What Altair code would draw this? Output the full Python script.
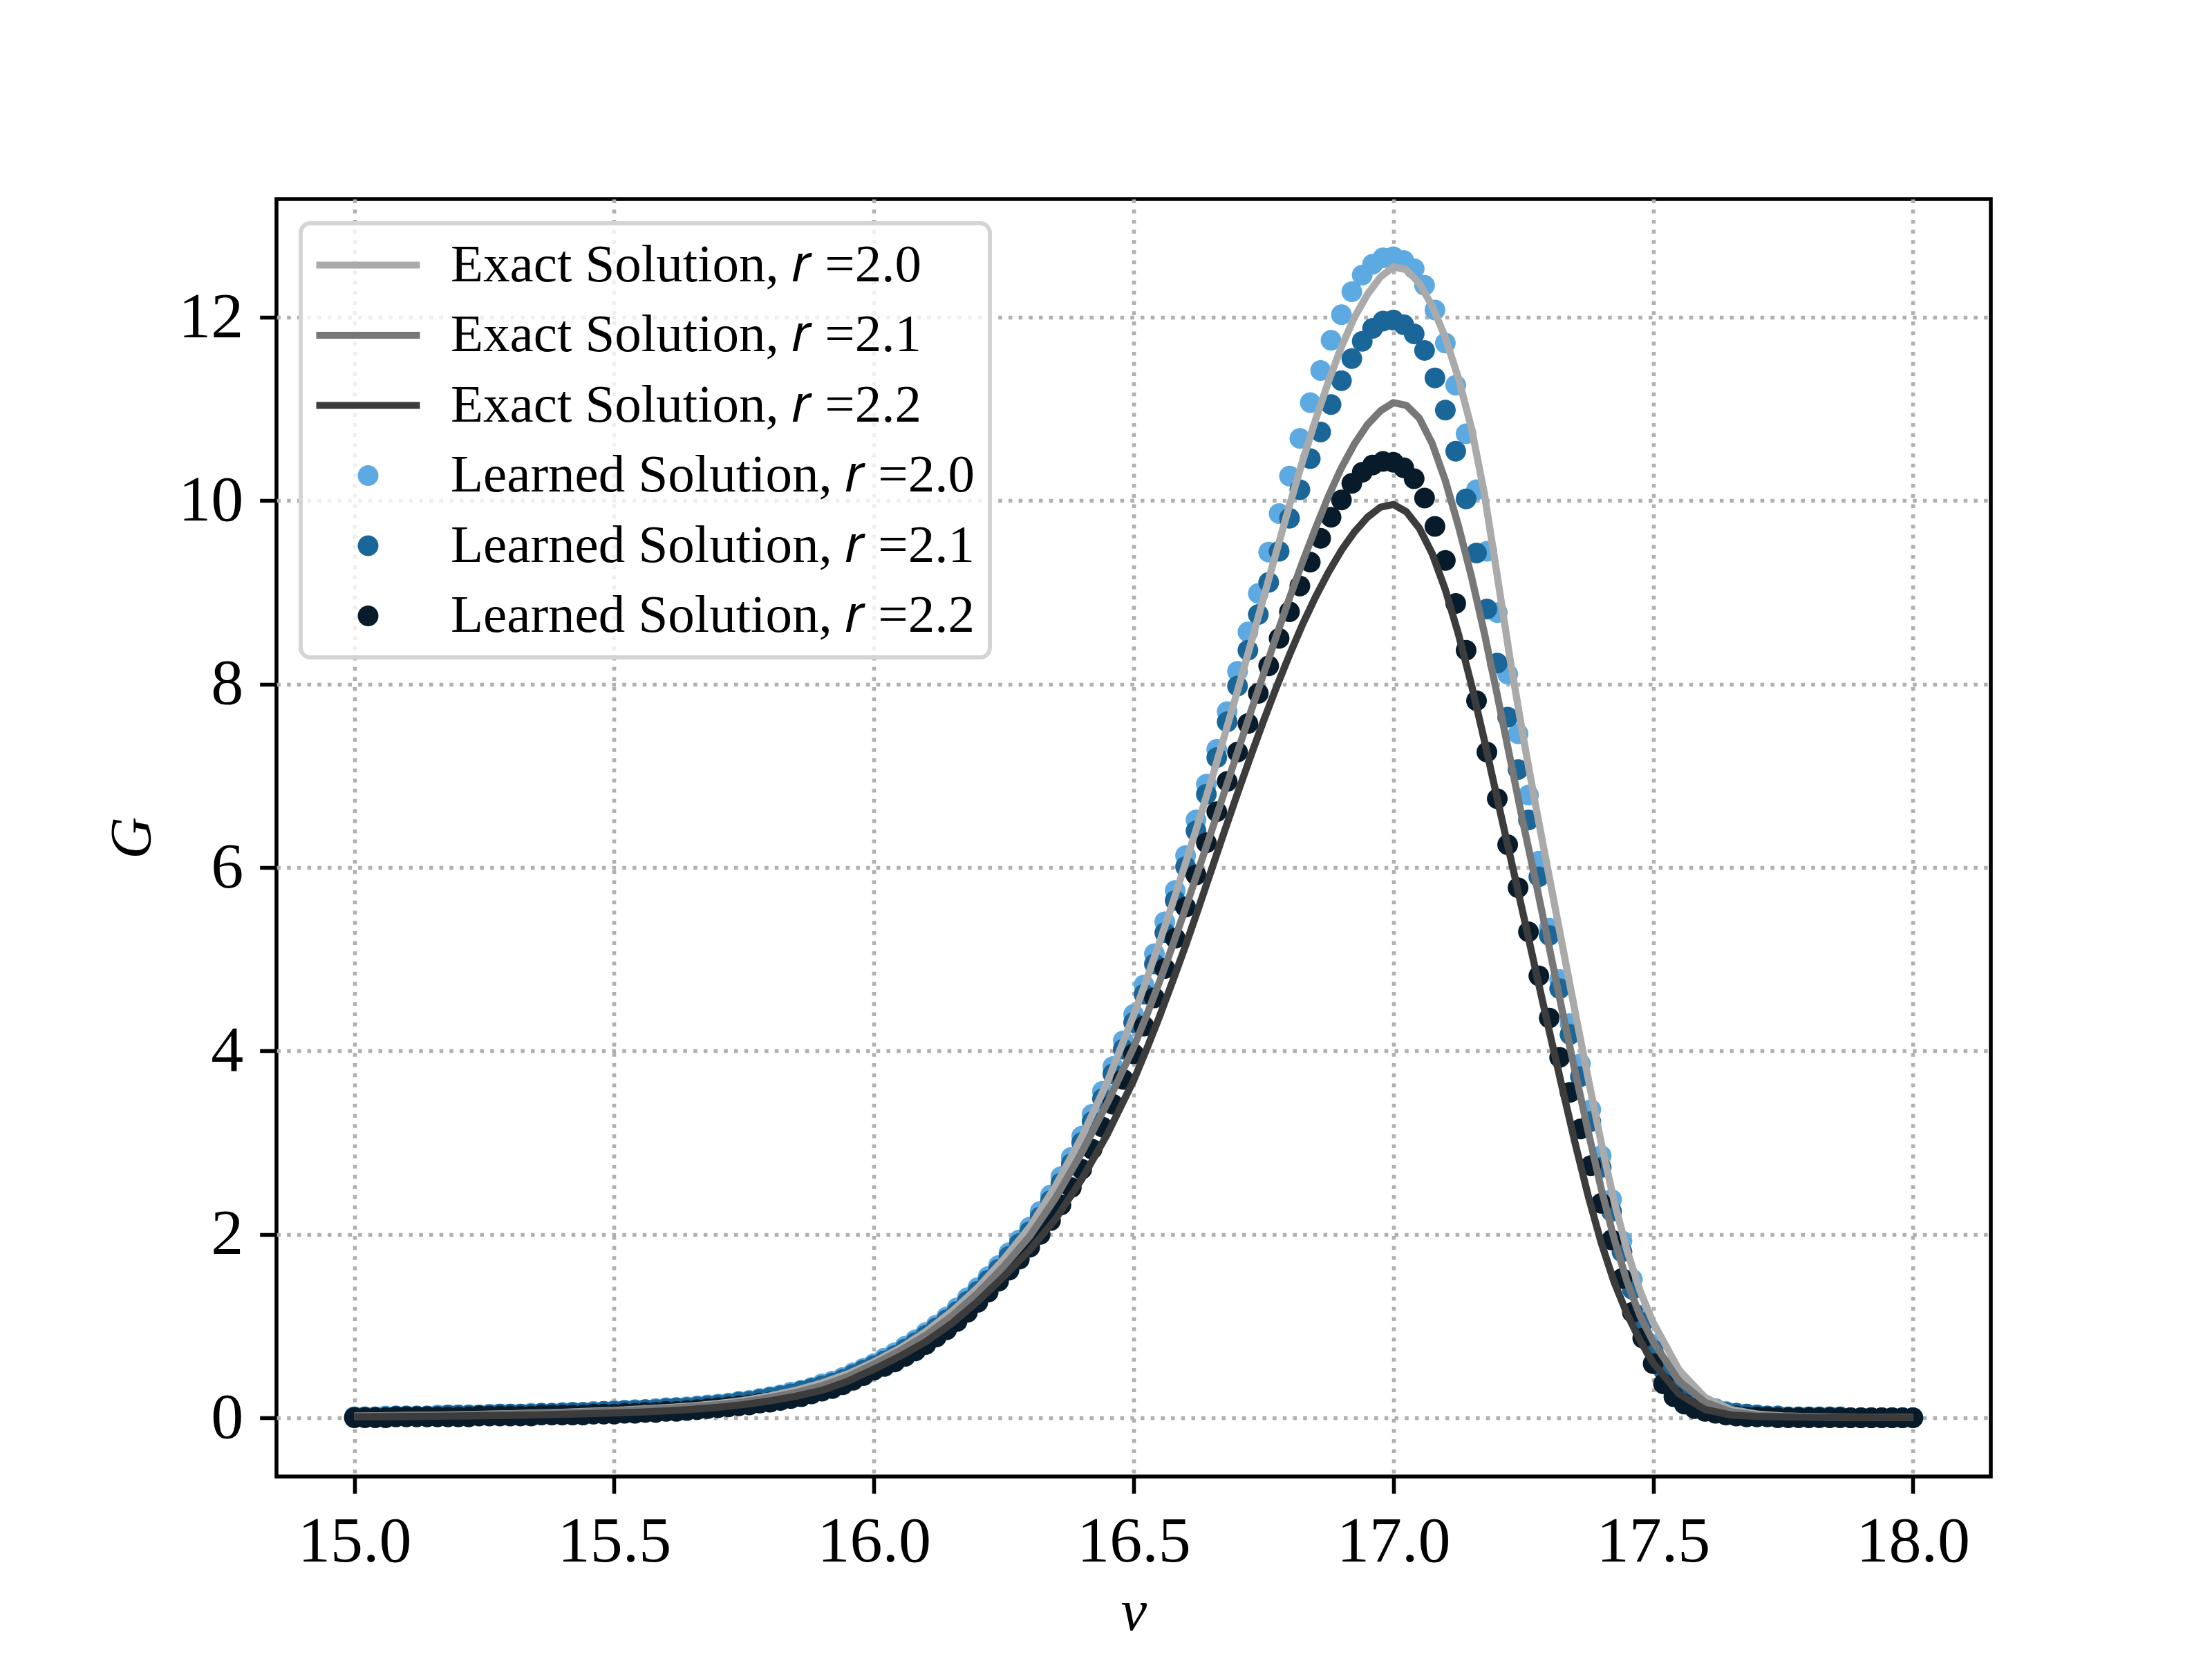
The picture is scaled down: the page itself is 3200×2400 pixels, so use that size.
import altair as alt
import pandas as pd

# ---------------- data ----------------
NU_LINE = [
    15.00, 15.05, 15.10, 15.15, 15.20, 15.25, 15.30, 15.35, 15.40, 15.45,
    15.50, 15.55, 15.60, 15.65, 15.70, 15.75, 15.80, 15.85, 15.90, 15.95,
    16.00, 16.05, 16.10, 16.15, 16.20, 16.25, 16.30, 16.35, 16.40, 16.45,
    16.500, 16.525, 16.550, 16.575, 16.600, 16.625, 16.650, 16.675, 16.700, 16.725,
    16.750, 16.775, 16.800, 16.825, 16.850, 16.875, 16.900, 16.925, 16.950, 16.975,
    17.000, 17.025, 17.050, 17.075, 17.100, 17.125, 17.150, 17.175, 17.200, 17.225,
    17.250, 17.275, 17.300, 17.325, 17.350, 17.375, 17.400, 17.425, 17.450, 17.475,
    17.500, 17.55, 17.60, 17.65, 17.70, 17.75, 17.80, 17.85, 17.90, 17.95,
    18.00,
]

EXACT_20 = [
    0.018, 0.021, 0.025, 0.029, 0.034, 0.039, 0.045, 0.052, 0.060, 0.070,
    0.080, 0.095, 0.110, 0.130, 0.155, 0.190, 0.240, 0.300, 0.380, 0.480,
    0.61, 0.76, 0.94, 1.16, 1.42, 1.73, 2.08, 2.53, 3.06, 3.67,
    4.39, 4.78, 5.19, 5.61, 6.05, 6.50, 6.96, 7.44, 7.93, 8.43,
    8.94, 9.45, 9.95, 10.43, 10.88, 11.30, 11.68, 12.00, 12.25, 12.44,
    12.55, 12.52, 12.37, 12.12, 11.78, 11.34, 10.80, 10.08, 9.18, 8.26,
    7.42, 6.64, 5.90, 5.16, 4.42, 3.70, 3.00, 2.36, 1.82, 1.38,
    1.04, 0.52, 0.22, 0.09, 0.04, 0.02, 0.012, 0.008, 0.006, 0.005,
    0.004,
]

EXACT_21 = [
    0.017, 0.020, 0.023, 0.027, 0.031, 0.036, 0.042, 0.048, 0.055, 0.064,
    0.074, 0.087, 0.101, 0.120, 0.143, 0.175, 0.220, 0.275, 0.350, 0.450,
    0.585, 0.73, 0.90, 1.11, 1.36, 1.65, 1.98, 2.40, 2.89, 3.44,
    4.04, 4.39, 4.76, 5.15, 5.56, 5.98, 6.40, 6.83, 7.26, 7.69,
    8.11, 8.53, 8.94, 9.33, 9.70, 10.05, 10.36, 10.62, 10.83, 10.98,
    11.07, 11.04, 10.90, 10.62, 10.22, 9.73, 9.18, 8.56, 7.88, 7.18,
    6.48, 5.82, 5.13, 4.44, 3.77, 3.12, 2.50, 1.95, 1.48, 1.11,
    0.83, 0.40, 0.17, 0.065, 0.030, 0.015, 0.010, 0.007, 0.005, 0.004,
    0.003,
]

EXACT_22 = [
    0.010, 0.012, 0.014, 0.017, 0.020, 0.023, 0.027, 0.032, 0.038, 0.045,
    0.053, 0.062, 0.075, 0.092, 0.115, 0.145, 0.185, 0.235, 0.300, 0.400,
    0.53, 0.67, 0.83, 1.03, 1.27, 1.54, 1.83, 2.17, 2.60, 3.10,
    3.68, 4.02, 4.38, 4.76, 5.15, 5.56, 5.98, 6.40, 6.81, 7.21,
    7.60, 7.97, 8.32, 8.65, 8.95, 9.22, 9.46, 9.66, 9.82, 9.93,
    9.96, 9.88, 9.70, 9.42, 9.03, 8.55, 8.00, 7.39, 6.75, 6.12,
    5.49, 4.85, 4.22, 3.60, 2.99, 2.42, 1.91, 1.48, 1.13, 0.84,
    0.60, 0.26, 0.09, 0.03, 0.015, 0.010, 0.007, 0.005, 0.004, 0.003,
    0.003,
]

NU_DOT = [
    15.00, 15.02, 15.04, 15.06, 15.08, 15.10, 15.12, 15.14, 15.16, 15.18,
    15.20, 15.22, 15.24, 15.26, 15.28, 15.30, 15.32, 15.34, 15.36, 15.38,
    15.40, 15.42, 15.44, 15.46, 15.48, 15.50, 15.52, 15.54, 15.56, 15.58,
    15.60, 15.62, 15.64, 15.66, 15.68, 15.70, 15.72, 15.74, 15.76, 15.78,
    15.80, 15.82, 15.84, 15.86, 15.88, 15.90, 15.92, 15.94, 15.96, 15.98,
    16.00, 16.02, 16.04, 16.06, 16.08, 16.10, 16.12, 16.14, 16.16, 16.18,
    16.20, 16.22, 16.24, 16.26, 16.28, 16.30, 16.32, 16.34, 16.36, 16.38,
    16.40, 16.42, 16.44, 16.46, 16.48, 16.50, 16.52, 16.54, 16.56, 16.58,
    16.60, 16.62, 16.64, 16.66, 16.68, 16.70, 16.72, 16.74, 16.76, 16.78,
    16.80, 16.82, 16.84, 16.86, 16.88, 16.90, 16.92, 16.94, 16.96, 16.98,
    17.00, 17.02, 17.04, 17.06, 17.08, 17.10, 17.12, 17.14, 17.16, 17.18,
    17.20, 17.22, 17.24, 17.26, 17.28, 17.30, 17.32, 17.34, 17.36, 17.38,
    17.40, 17.42, 17.44, 17.46, 17.48, 17.50, 17.52, 17.54, 17.56, 17.58,
    17.60, 17.62, 17.64, 17.66, 17.68, 17.70, 17.72, 17.74, 17.76, 17.78,
    17.80, 17.82, 17.84, 17.86, 17.88, 17.90, 17.92, 17.94, 17.96, 17.98,
    18.00,
]

LEARN_20 = [
    0.01, 0.01, 0.01, 0.02, 0.02, 0.02, 0.02, 0.02, 0.03, 0.03,
    0.03, 0.03, 0.03, 0.04, 0.04, 0.04, 0.04, 0.05, 0.05, 0.05,
    0.06, 0.06, 0.06, 0.07, 0.07, 0.08, 0.08, 0.09, 0.09, 0.10,
    0.11, 0.11, 0.12, 0.13, 0.14, 0.15, 0.16, 0.18, 0.19, 0.21,
    0.23, 0.25, 0.28, 0.30, 0.33, 0.37, 0.40, 0.44, 0.49, 0.54,
    0.59, 0.65, 0.71, 0.78, 0.85, 0.93, 1.01, 1.10, 1.20, 1.31,
    1.42, 1.54, 1.66, 1.80, 1.94, 2.08, 2.25, 2.43, 2.63, 2.84,
    3.07, 3.31, 3.56, 3.83, 4.11, 4.40, 4.72, 5.06, 5.41, 5.75,
    6.13, 6.52, 6.91, 7.29, 7.70, 8.14, 8.57, 8.99, 9.44, 9.86,
    10.27, 10.68, 11.07, 11.42, 11.75, 12.03, 12.28, 12.46, 12.58, 12.65,
    12.66, 12.62, 12.53, 12.35, 12.08, 11.72, 11.26, 10.73, 10.12, 9.45,
    8.78, 8.11, 7.46, 6.79, 6.07, 5.34, 4.78, 4.30, 3.86, 3.36,
    2.86, 2.38, 1.93, 1.51, 1.12, 0.80, 0.56, 0.39, 0.28, 0.20,
    0.14, 0.10, 0.07, 0.05, 0.04, 0.03, 0.02, 0.02, 0.01, 0.01,
    0.01, 0.01, 0.01, 0.01, 0.00, 0.00, 0.00, 0.00, 0.00, 0.00,
    0.00,
]

LEARN_21 = [
    0.01, 0.01, 0.01, 0.01, 0.02, 0.02, 0.02, 0.02, 0.02, 0.03,
    0.03, 0.03, 0.03, 0.03, 0.04, 0.04, 0.04, 0.04, 0.05, 0.05,
    0.05, 0.06, 0.06, 0.06, 0.07, 0.07, 0.08, 0.08, 0.09, 0.09,
    0.10, 0.11, 0.11, 0.12, 0.13, 0.14, 0.15, 0.17, 0.18, 0.20,
    0.22, 0.24, 0.26, 0.29, 0.32, 0.35, 0.38, 0.42, 0.47, 0.52,
    0.57, 0.62, 0.68, 0.75, 0.82, 0.90, 0.98, 1.07, 1.16, 1.27,
    1.38, 1.50, 1.62, 1.76, 1.90, 2.03, 2.19, 2.37, 2.56, 2.77,
    3.00, 3.23, 3.48, 3.75, 4.02, 4.31, 4.62, 4.95, 5.29, 5.64,
    6.01, 6.40, 6.80, 7.20, 7.59, 7.98, 8.37, 8.76, 9.11, 9.45,
    9.81, 10.12, 10.46, 10.75, 11.05, 11.31, 11.55, 11.74, 11.88, 11.96,
    11.97, 11.92, 11.82, 11.64, 11.34, 10.99, 10.54, 10.02, 9.43, 8.82,
    8.23, 7.64, 7.07, 6.52, 5.90, 5.26, 4.68, 4.18, 3.72, 3.23,
    2.73, 2.25, 1.81, 1.40, 1.04, 0.74, 0.52, 0.36, 0.25, 0.18,
    0.13, 0.09, 0.06, 0.05, 0.04, 0.03, 0.02, 0.02, 0.01, 0.01,
    0.01, 0.01, 0.01, 0.01, 0.00, 0.00, 0.00, 0.00, 0.00, 0.00,
    0.00,
]

LEARN_22 = [
    0.00, 0.00, 0.00, 0.00, 0.01, 0.01, 0.01, 0.01, 0.01, 0.01,
    0.01, 0.01, 0.02, 0.02, 0.02, 0.02, 0.02, 0.02, 0.03, 0.03,
    0.03, 0.03, 0.03, 0.04, 0.04, 0.04, 0.05, 0.05, 0.06, 0.06,
    0.07, 0.07, 0.08, 0.09, 0.10, 0.11, 0.12, 0.13, 0.14, 0.16,
    0.17, 0.19, 0.21, 0.23, 0.26, 0.29, 0.32, 0.36, 0.41, 0.46,
    0.52, 0.56, 0.61, 0.67, 0.73, 0.80, 0.88, 0.96, 1.05, 1.15,
    1.26, 1.37, 1.49, 1.61, 1.73, 1.86, 2.00, 2.15, 2.32, 2.51,
    2.71, 2.93, 3.17, 3.42, 3.69, 3.97, 4.27, 4.58, 4.90, 5.23,
    5.57, 5.92, 6.27, 6.61, 6.94, 7.26, 7.57, 7.90, 8.20, 8.50,
    8.79, 9.07, 9.33, 9.59, 9.82, 10.01, 10.19, 10.31, 10.39, 10.43,
    10.42, 10.36, 10.24, 10.03, 9.72, 9.35, 8.88, 8.37, 7.82, 7.26,
    6.75, 6.25, 5.78, 5.30, 4.82, 4.36, 3.93, 3.55, 3.15, 2.75,
    2.34, 1.94, 1.52, 1.15, 0.87, 0.59, 0.37, 0.23, 0.15, 0.10,
    0.07, 0.05, 0.03, 0.02, 0.01, 0.01, 0.01, 0.00, 0.00, 0.00,
    0.00, 0.00, 0.00, 0.00, 0.00, 0.00, 0.00, 0.00, 0.00, 0.00,
    0.00,
]

EXACT_NAMES = ["Exact Solution, 𝑟 =2.0", "Exact Solution, 𝑟 =2.1", "Exact Solution, 𝑟 =2.2"]
LEARN_NAMES = ["Learned Solution, 𝑟 =2.0", "Learned Solution, 𝑟 =2.1", "Learned Solution, 𝑟 =2.2"]
EXACT_COLORS = ["#aaaaaa", "#777777", "#3c3c3c"]
LEARN_COLORS = ["#5daae2", "#1b6699", "#071b2b"]

X_TICKS = [15.0, 15.5, 16.0, 16.5, 17.0, 17.5, 18.0]
Y_TICKS = [0, 2, 4, 6, 8, 10, 12]

# ---------------- tables ----------------
line_rows = []
for k, (name, ys) in enumerate(zip(EXACT_NAMES, [EXACT_20, EXACT_21, EXACT_22])):
    for x, y in zip(NU_LINE, ys):
        line_rows.append({"nu": x, "G": y, "series": name, "k": k})
lines_df = pd.DataFrame(line_rows)

dot_rows = []
for k, (name, ys) in enumerate(zip(LEARN_NAMES, [LEARN_20, LEARN_21, LEARN_22])):
    for x, y in zip(NU_DOT, ys):
        dot_rows.append({"nu": x, "G": y, "series": name, "k": k})
dots_df = pd.DataFrame(dot_rows)

SERIF = "Liberation Serif"
LW = 5.56

x_enc = alt.X(
    "nu:Q",
    scale=alt.Scale(domain=[14.85, 18.15], nice=False, zero=False),
    axis=alt.Axis(values=X_TICKS, format=".1f", title="ν", titlePadding=14),
)
y_enc = alt.Y(
    "G:Q",
    scale=alt.Scale(domain=[-0.64, 13.29], nice=False, zero=False),
    axis=alt.Axis(values=Y_TICKS, format="d", title="G", titlePadding=22),
)

ALL_NAMES = EXACT_NAMES + LEARN_NAMES
RECT = "M-2,-0.135H2V0.135H-2Z"
CIRC = "M0.4,0A0.4,0.4,0,1,1,-0.4,0A0.4,0.4,0,1,1,0.4,0Z"

legend = alt.Legend(
    title=None,
    orient="top-left",
    offset=35,
    padding=22,
    rowPadding=23.5,
    symbolSize=5625,
    symbolStrokeWidth=0,
    symbolOffset=37,
    labelOffset=81,
    labelFont=SERIF,
    labelFontSize=77,
    labelColor="black",
    labelLimit=3000,
    fillColor="rgba(255,255,255,0.8)",
    strokeColor="#d4d4d4",
    cornerRadius=14,
)

dots = alt.Chart(dots_df).mark_point(filled=True, size=5625, opacity=1, strokeWidth=0).encode(
    x=x_enc,
    y=y_enc,
    color=alt.Color("series:N", scale=alt.Scale(domain=ALL_NAMES, range=EXACT_COLORS + LEARN_COLORS), legend=legend),
    shape=alt.Shape("series:N", scale=alt.Scale(domain=ALL_NAMES, range=[RECT] * 3 + [CIRC] * 3), legend=legend),
    order=alt.Order("k:Q"),
)

lines = alt.Chart(lines_df).mark_line(strokeWidth=10.4, strokeJoin="round").encode(
    x=x_enc,
    y=y_enc,
    stroke=alt.Stroke("series:N", scale=alt.Scale(domain=EXACT_NAMES, range=EXACT_COLORS), legend=None),
    order=alt.Order("nu:Q"),
)

chart = (
    alt.layer(dots, lines)
    .properties(
        width=2480,
        height=1848,
        autosize=alt.AutoSizeParams(type="none"),
        padding={"left": 392, "top": 280, "right": 312, "bottom": 256},
        background="white",
    )
    .configure_view(stroke="black", strokeWidth=LW)
    .configure_axis(
        domain=False,
        grid=True,
        gridColor="#b0b0b0",
        gridDash=[5.5, 9.2],
        gridWidth=LW,
        ticks=True,
        tickSize=24.3,
        tickWidth=LW,
        tickColor="black",
        labelFont=SERIF,
        labelFontSize=94,
        labelColor="black",
        labelPadding=24,
        titleFont=SERIF,
        titleFontSize=84,
        titleFontStyle="italic",
        titleFontWeight="normal",
        titleColor="black",
    )
    .configure_legend(strokeWidth=6)
)

chart.save("out.html", embed_options={"renderer": "svg", "actions": False})
